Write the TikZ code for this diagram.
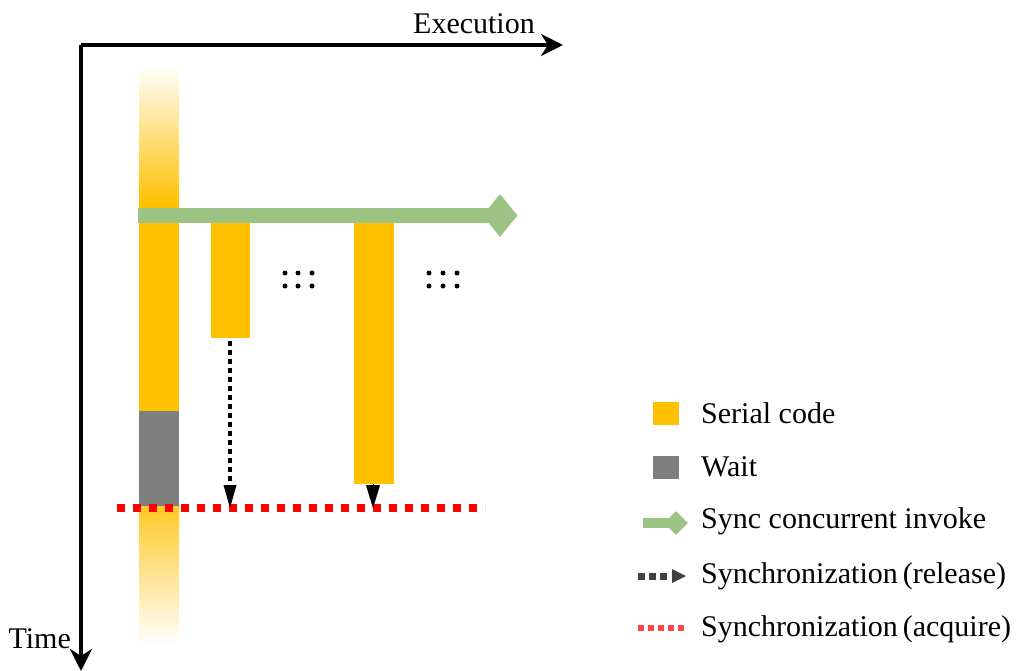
\documentclass[tikz,border=0pt]{standalone}
\usepackage{fontspec}
\setmainfont{Liberation Serif}
\newfontfamily\lserif{Liberation Serif}
\usetikzlibrary{arrows.meta,shapes.geometric}
\definecolor{serial}{HTML}{FFC000}
\definecolor{waitc}{HTML}{7F7F7F}
\definecolor{invoke}{HTML}{9DC384}
\definecolor{acq}{HTML}{FF0000}
\definecolor{acqleg}{HTML}{FF4545}
\definecolor{relleg}{HTML}{404040}
\tikzset{
  axis/.style={line width=4pt,-{Stealth[length=22pt,width=22pt,inset=7pt]}},
  lbl/.style={font=\lserif\fontsize{30}{35}\selectfont,inner sep=0pt},
  serialbar/.style={fill=serial,draw=none},
  waitbar/.style={fill=waitc,draw=none},
  headdia/.style={diamond,fill=invoke,draw=none,minimum width=35pt,minimum height=43pt,inner sep=0pt},
  acquire/.style={draw=acq,line width=8pt,dash pattern=on 8pt off 8pt},
  release/.style={draw=black,line width=4pt,dash pattern=on 4.5pt off 4.5pt,-{Triangle[length=23pt,width=13pt,line width=0pt]}},
  relhead/.style={-{Triangle[length=23pt,width=14pt]},line width=0.1pt},
  dot/.style={circle,fill=black,inner sep=0pt,minimum size=5pt},
}
\begin{document}
\begin{tikzpicture}[x=1pt,y=-1pt]
\useasboundingbox (0,0) rectangle (1017,671);
% axes
\coordinate (origin) at (81,45);
\coordinate (xend) at (563,45);
\coordinate (yend) at (81,671);
\draw[axis] (origin) -- (xend);
\draw[axis] (origin) -- (yend);
\node[lbl,anchor=base east] (exec) at (535,34) {Execution};
\node[lbl,anchor=base east] (time) at (71,648) {Time};
% main lane
\shade[top color=white,bottom color=serial] (139,65) rectangle (179,205);
\node[serialbar,minimum width=40pt,minimum height=206pt,inner sep=0pt,anchor=north west] (lane) at (139,205) {};
\node[waitbar,minimum width=40pt,minimum height=95pt,inner sep=0pt,anchor=north west] (wait) at (139,411) {};
\shade[top color=serial!85,bottom color=white] (139,506) rectangle (179,645);
% branches
\node[serialbar,minimum width=39pt,minimum height=116pt,inner sep=0pt,anchor=north west] (b1) at (211,222) {};
\node[serialbar,minimum width=40pt,minimum height=262pt,inner sep=0pt,anchor=north west] (b2) at (354,222) {};
% invoke arrow
\node[headdia] (ihead) at (500,215.5) {};
\fill[invoke] (138,208) rectangle (ihead.center |- 0,223);
% dots
\foreach \x/\n in {285/a,298/b,312/c,429/d,443/e,457/f}{
  \node[dot] (d1\n) at (\x,273) {};
  \node[dot] (d2\n) at (\x,286) {};
}
% acquire line
\coordinate (acqL) at (117,507.5);
\coordinate (acqR) at (485,507.5);
\draw[acquire] (acqL) -- (acqR);
% release arrows
\coordinate (r1end) at (230,508);
\draw[release] (b1.south -| r1end) ++(0,3) -- (r1end);
\coordinate (r2end) at (373,508);
\draw[relhead] (b2.south -| r2end) -- (r2end);
% legend
\node[serialbar,minimum width=26pt,minimum height=23pt,inner sep=0pt] (lg1) at (666,413.5) {};
\node[lbl,anchor=west] (t1) at (701,413) {Serial code};
\node[waitbar,minimum width=26pt,minimum height=23pt,inner sep=0pt] (lg2) at (666,467.5) {};
\node[lbl,anchor=west] (t2) at (701,467) {Wait};
\node[headdia,minimum width=24pt,minimum height=24pt] (lg3h) at (676,523) {};
\fill[invoke] (643,518) rectangle (lg3h.center |- 0,528);
\node[lbl,anchor=west] (t3) at (701,521) {Sync concurrent invoke};
\coordinate (lg4a) at (638,576);
\coordinate (lg4b) at (686,576);
\draw[draw=relleg,line width=7pt,dash pattern=on 7pt off 4pt] (lg4a) -- (670,576);
\draw[draw=none,fill=relleg] (lg4b) -- (672,569) -- (672,583) -- cycle;
\node[lbl,anchor=west] (t4) at (701,576) {Synchronization\,(release)};
\coordinate (lg5a) at (638,628);
\coordinate (lg5b) at (686,628);
\draw[draw=acqleg,line width=6pt,dash pattern=on 6pt off 4pt] (lg5a) -- (lg5b);
\node[lbl,anchor=west] (t5) at (701,629) {Synchronization\,(acquire)};
\end{tikzpicture}
\end{document}
